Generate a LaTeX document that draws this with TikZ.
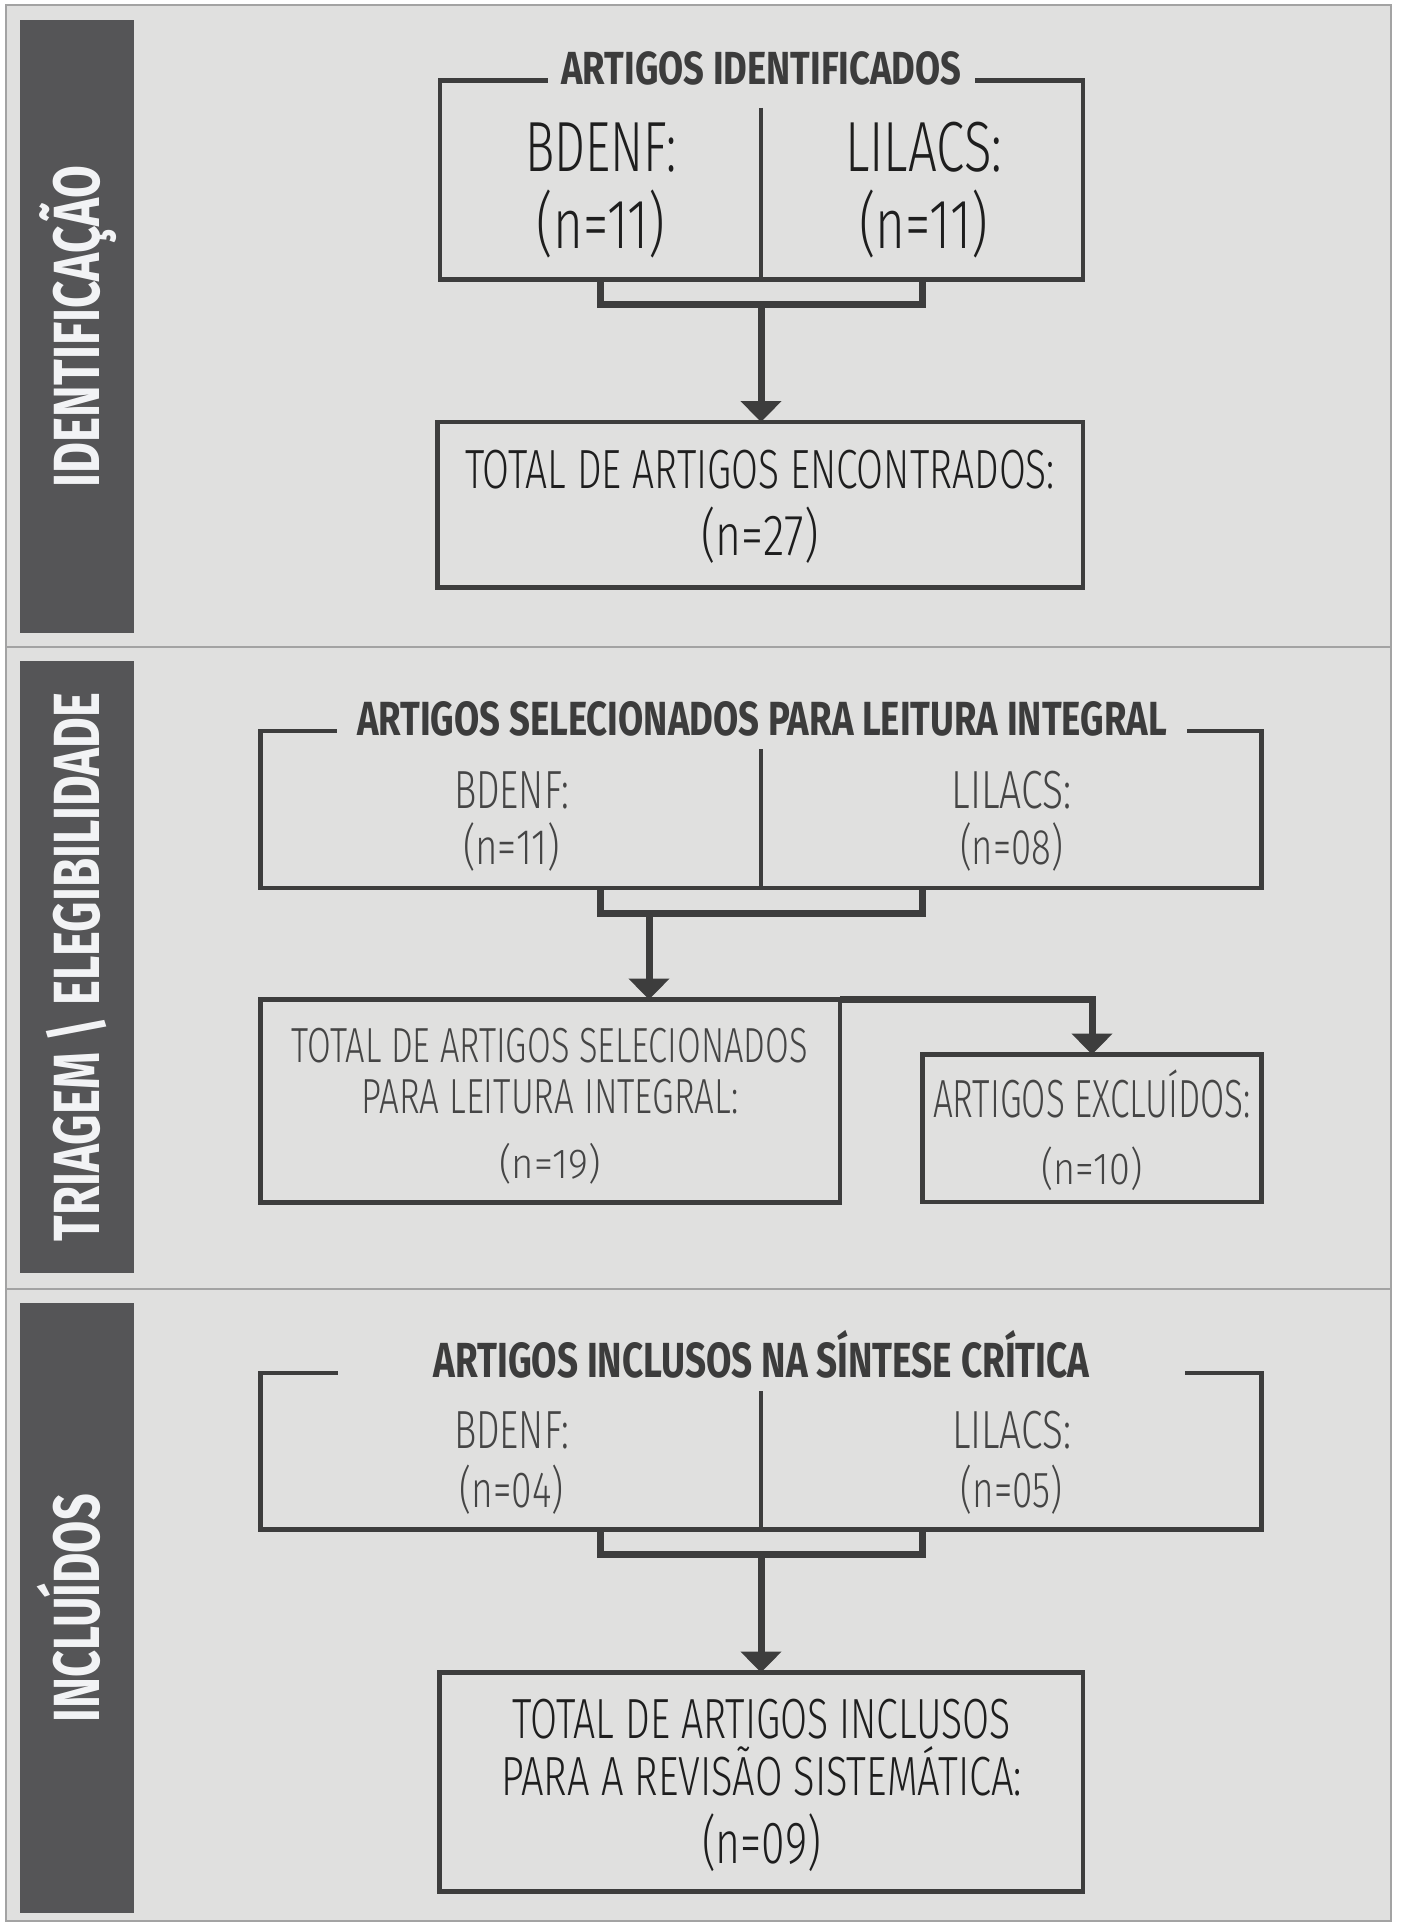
\documentclass[tikz,border=0pt]{standalone}
\usepackage{fontspec}
\usepackage{graphicx}
\usetikzlibrary{arrows.meta}
\newfontfamily\lightf{Fira Sans Light}
\newfontfamily\boldf{Fira Sans Bold}
\definecolor{bgc}{HTML}{E0E0DF}
\definecolor{framec}{HTML}{A3A3A3}
\definecolor{sidec}{HTML}{555557}
\definecolor{sidetxt}{HTML}{F2F3F5}
\definecolor{linec}{HTML}{3D3D3D}
\definecolor{titlec}{HTML}{3C3C3C}
\definecolor{darkc}{HTML}{1E1E1E}
\definecolor{midc}{HTML}{454545}
\newcommand\txt[3]{\fontsize{#1}{#1}\selectfont\resizebox{#2}{\height}{#3}}
\begin{document}
\begin{tikzpicture}[x=1pt,y=-1pt,
  boxst/.style={draw=linec, line width=4.5pt, inner sep=0pt, outer sep=0pt},
  lbl/.style={anchor=base, inner sep=0pt, outer sep=0pt},
  dark/.style={lbl, text=darkc, font=\lightf},
  mid/.style={lbl, text=midc, font=\lightf},
  ttl/.style={lbl, text=titlec, font=\boldf, fill=bgc},
  side/.style={fill=sidec, rotate=90, inner sep=0pt, outer sep=0pt, minimum height=114pt, text height=45pt, text depth=0pt, text=sidetxt, font=\boldf},
  conn/.style={draw=linec, line width=7pt},
  arr/.style={conn, -{Triangle[width=40pt,length=21pt]}},
  divl/.style={draw=linec, line width=4.5pt},
  sep/.style={draw=framec, line width=2.5pt}
]
\useasboundingbox (0,0) rectangle (1400,1926);
\fill[white] (0,0) rectangle (1400,1926);
\draw[sep, fill=bgc] (6,5) rectangle (1391,1921);
\draw[sep] (6,647) -- (1391,647);
\draw[sep] (6,1289) -- (1391,1289);

% sidebars
\node[side, minimum width=613pt] (s1) at (77,326.5) {\txt{65.3pt}{321pt}{IDENTIFICAÇÃO}};
\node[side, minimum width=612pt] (s2) at (77,967) {\txt{65.3pt}{548pt}{TRIAGEM \textbackslash{} ELEGIBILIDADE}};
\node[side, minimum width=610pt] (s3) at (77,1608) {\txt{65.3pt}{228pt}{INCLUÍDOS}};

% ---------- section 1
\node[boxst, minimum width=643pt, minimum height=199pt] (bx1) at (761.5,180) {};
\node[ttl, minimum width=427pt] (t1) at (761.5,85) {\txt{46.4pt}{400pt}{ARTIGOS IDENTIFICADOS}};
\coordinate (d1) at (761,108);
\draw[divl] (d1) -- (d1 |- bx1.south);
\node[dark] (bd1) at (601,172) {\txt{71pt}{151pt}{BDENF:}};
\node[dark] (bdn1) at (601,248) {\txt{70pt}{129pt}{(n=11)}};
\node[dark] (li1) at (923.5,172) {\txt{71pt}{157pt}{LILACS:}};
\node[dark] (lin1) at (923.5,248) {\txt{70pt}{129pt}{(n=11)}};
\node[boxst, minimum width=645.5pt, minimum height=165.5pt] (tot1) at (760,504.75) {};
\node[dark] (tt1a) at (760,488) {\txt{55.2pt}{590pt}{TOTAL DE ARTIGOS ENCONTRADOS:}};
\node[dark] (tt1b) at (760,555) {\txt{58pt}{117pt}{(n=27)}};
\coordinate (b1l) at (600.5,304.5);
\coordinate (b1r) at (922,304.5);
\coordinate (b1m) at (761,304.5);
\draw[conn] (b1l |- bx1.south) -- (b1l) -- (b1r) -- (b1r |- bx1.south);
\draw[arr] (b1m) -- (b1m |- tot1.north);

% ---------- section 2
\node[boxst, minimum width=1001pt, minimum height=157pt] (bx2) at (761,809.5) {};
\node[ttl, minimum width=850pt] (t2) at (762,735) {\txt{47.9pt}{810pt}{ARTIGOS SELECIONADOS PARA LEITURA INTEGRAL}};
\coordinate (d2) at (761,749);
\draw[divl] (d2) -- (d2 |- bx2.south);
\node[mid] (bd2) at (511.5,808) {\txt{53.7pt}{115pt}{BDENF:}};
\node[mid] (bdn2) at (511.5,864) {\txt{50pt}{97pt}{(n=11)}};
\node[mid] (li2) at (1011.5,808) {\txt{53.7pt}{120pt}{LILACS:}};
\node[mid] (lin2) at (1011.5,864) {\txt{50pt}{103pt}{(n=08)}};
\node[boxst, minimum width=579.5pt, minimum height=203pt] (tot2) at (550.25,1101) {};
\node[mid] (tt2a) at (550,1062) {\txt{49.3pt}{516pt}{TOTAL DE ARTIGOS SELECIONADOS}};
\node[mid] (tt2b) at (550,1113) {\txt{49.3pt}{377pt}{PARA LEITURA INTEGRAL:}};
\node[mid] (tt2c) at (550,1178) {\txt{42pt}{101pt}{(n=19)}};
\node[boxst, minimum width=339pt, minimum height=147.5pt] (exc) at (1092,1128.25) {};
\node[mid] (ex1) at (1092,1117) {\txt{53.7pt}{318pt}{ARTIGOS EXCLUÍDOS:}};
\node[mid] (ex2) at (1092,1184) {\txt{45pt}{101pt}{(n=10)}};
\coordinate (b2l) at (600.5,913.5);
\coordinate (b2r) at (922,913.5);
\coordinate (b2m) at (649,913.5);
\draw[conn] (b2l |- bx2.south) -- (b2l) -- (b2r) -- (b2r |- bx2.south);
\draw[arr] (b2m) -- (b2m |- tot2.north);
\draw[arr] (tot2.north east) -| (exc.north);

% ---------- section 3
\node[boxst, minimum width=1001pt, minimum height=156.5pt] (bx3) at (761,1451.25) {};
\node[ttl, minimum width=847pt] (t3) at (761.5,1377) {\txt{49.3pt}{656pt}{ARTIGOS INCLUSOS NA SÍNTESE CRÍTICA}};
\coordinate (d3) at (761,1391);
\draw[divl] (d3) -- (d3 |- bx3.south);
\node[mid] (bd3) at (511.5,1448) {\txt{53.7pt}{115pt}{BDENF:}};
\node[mid] (bdn3) at (511.5,1507) {\txt{50.8pt}{104pt}{(n=04)}};
\node[mid] (li3) at (1011.5,1448) {\txt{53.7pt}{119pt}{LILACS:}};
\node[mid] (lin3) at (1011.5,1507) {\txt{50.8pt}{102pt}{(n=05)}};
\node[boxst, minimum width=643.5pt, minimum height=219pt] (tot3) at (761.25,1782) {};
\node[dark] (tt3a) at (761.5,1738) {\txt{56.6pt}{498pt}{TOTAL DE ARTIGOS INCLUSOS}};
\node[dark] (tt3b) at (761.5,1795) {\txt{55.2pt}{521pt}{PARA A REVISÃO SISTEMÁTICA:}};
\node[dark] (tt3c) at (761.5,1863) {\txt{59.5pt}{119pt}{(n=09)}};
\coordinate (b3l) at (600.5,1554.5);
\coordinate (b3r) at (922,1554.5);
\coordinate (b3m) at (761,1554.5);
\draw[conn] (b3l |- bx3.south) -- (b3l) -- (b3r) -- (b3r |- bx3.south);
\draw[arr] (b3m) -- (b3m |- tot3.north);
\end{tikzpicture}
\end{document}
